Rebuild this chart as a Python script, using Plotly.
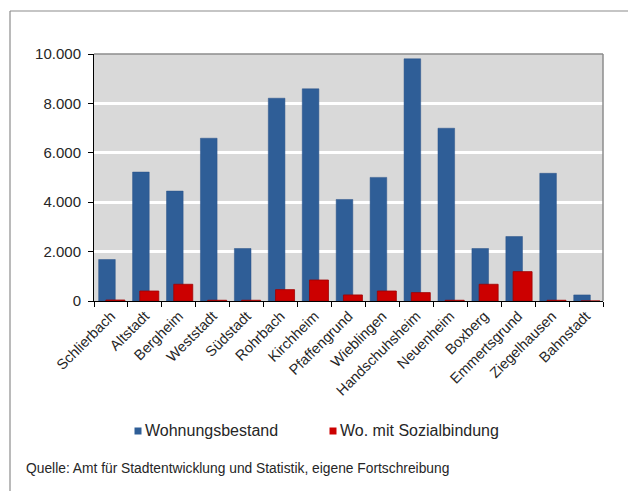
import plotly.graph_objects as go

categories = ["Schlierbach", "Altstadt", "Bergheim", "Weststadt", "Südstadt", "Rohrbach",
              "Kirchheim", "Pfaffengrund", "Wieblingen", "Handschuhsheim", "Neuenheim",
              "Boxberg", "Emmertsgrund", "Ziegelhausen", "Bahnstadt"]
wohnungsbestand = [1680, 5220, 4450, 6590, 2125, 8210, 8590, 4110, 5005, 9805, 6995, 2125, 2610, 5170, 245]
sozialbindung = [40, 405, 677, 30, 30, 460, 850, 245, 405, 340, 30, 677, 1190, 30, 0]
y_ticks = [0, 2000, 4000, 6000, 8000, 10000]
series_names = ["Wohnungsbestand", "Wo. mit Sozialbindung"]
series_colors = ["#2F5E97", "#CC0000"]

FONT = "Liberation Sans, Arial, sans-serif"
TXT = "#262626"

# page body has an 8px margin; work in reference coords minus 8
OFF = 8
W, H = 636 - OFF, 491 - OFF
L, R, T, B = 94 - OFF, 603 - OFF, 54 - OFF, 301 - OFF


def px(x):
    return (x - OFF - L) / (R - L)


def py(y):
    return (B - (y - OFF)) / (B - T)


fig = go.Figure()
fig.add_trace(go.Bar(
    x=categories, y=wohnungsbestand, name=series_names[0],
    marker=dict(color=series_colors[0], line=dict(color="#2A5389", width=0.5)),
    offset=-0.363, width=0.49, showlegend=False,
))
fig.add_trace(go.Bar(
    x=categories, y=sozialbindung, name=series_names[1],
    marker=dict(color=series_colors[1], line=dict(color="#A00000", width=0.8)),
    offset=-0.15, width=0.56, showlegend=False,
))

shapes = [
    # plot area frame (top/right gray)
    dict(type="line", xref="paper", yref="paper", x0=0, x1=1, y0=1, y1=1,
         line=dict(color="#8C8C8C", width=1.5), layer="above"),
    dict(type="line", xref="paper", yref="paper", x0=1, x1=1, y0=0, y1=1,
         line=dict(color="#8C8C8C", width=1.5), layer="above"),
    # outer chart border
    dict(type="line", xref="paper", yref="paper", x0=px(10), x1=px(660), y0=py(11), y1=py(11),
         line=dict(color="#8C8C8C", width=1.2)),
    dict(type="line", xref="paper", yref="paper", x0=px(10), x1=px(10), y0=py(11), y1=py(520),
         line=dict(color="#8C8C8C", width=1.2)),
]
annotations = [
    dict(text="Quelle: Amt für Stadtentwicklung und Statistik, eigene Fortschreibung",
         xref="paper", yref="paper", x=px(24), y=py(468), xanchor="left", yanchor="middle",
         showarrow=False, font=dict(size=13.8, family=FONT, color=TXT)),
]

# custom legend (small squares + labels)
leg_x = [138, 333]
leg_y = 431
for name, col, lx in zip(series_names, series_colors, leg_x):
    shapes.append(dict(type="rect", xref="paper", yref="paper",
                       x0=px(lx - 3.5), x1=px(lx + 3.5), y0=py(leg_y + 3.5), y1=py(leg_y - 3.5),
                       fillcolor=col, line=dict(width=0)))
    annotations.append(dict(text=name, xref="paper", yref="paper", x=px(lx + 5), y=py(leg_y),
                            xanchor="left", yanchor="middle", showarrow=False,
                            font=dict(size=16, family=FONT, color=TXT)))

fig.update_layout(
    width=W, height=H,
    margin=dict(l=L, r=W - R, t=T, b=H - B),
    paper_bgcolor="white", plot_bgcolor="#D9D9D9",
    barmode="overlay",
    separators=",.",
    font=dict(family=FONT, color=TXT, size=12),
    showlegend=False,
    xaxis=dict(
        type="category", tickangle=-45, tickson="boundaries",
        ticks="outside", ticklen=5, tickcolor="black", tickwidth=1,
        showline=True, linecolor="black", linewidth=1,
        showgrid=False,
        tickfont=dict(size=14.5, family=FONT, color=TXT),
        range=[-0.5, 14.5],
    ),
    yaxis=dict(
        range=[0, 10000], tickvals=y_ticks, tickformat=",d",
        ticks="outside", ticklen=5, tickcolor="black", tickwidth=1,
        showline=True, linecolor="black", linewidth=1,
        showgrid=True, gridcolor="white", gridwidth=3,
        zeroline=False, ticklabelstandoff=4,
        tickfont=dict(size=15, family=FONT, color=TXT),
    ),
    shapes=shapes,
    annotations=annotations,
)

fig.write_html("out.html")
